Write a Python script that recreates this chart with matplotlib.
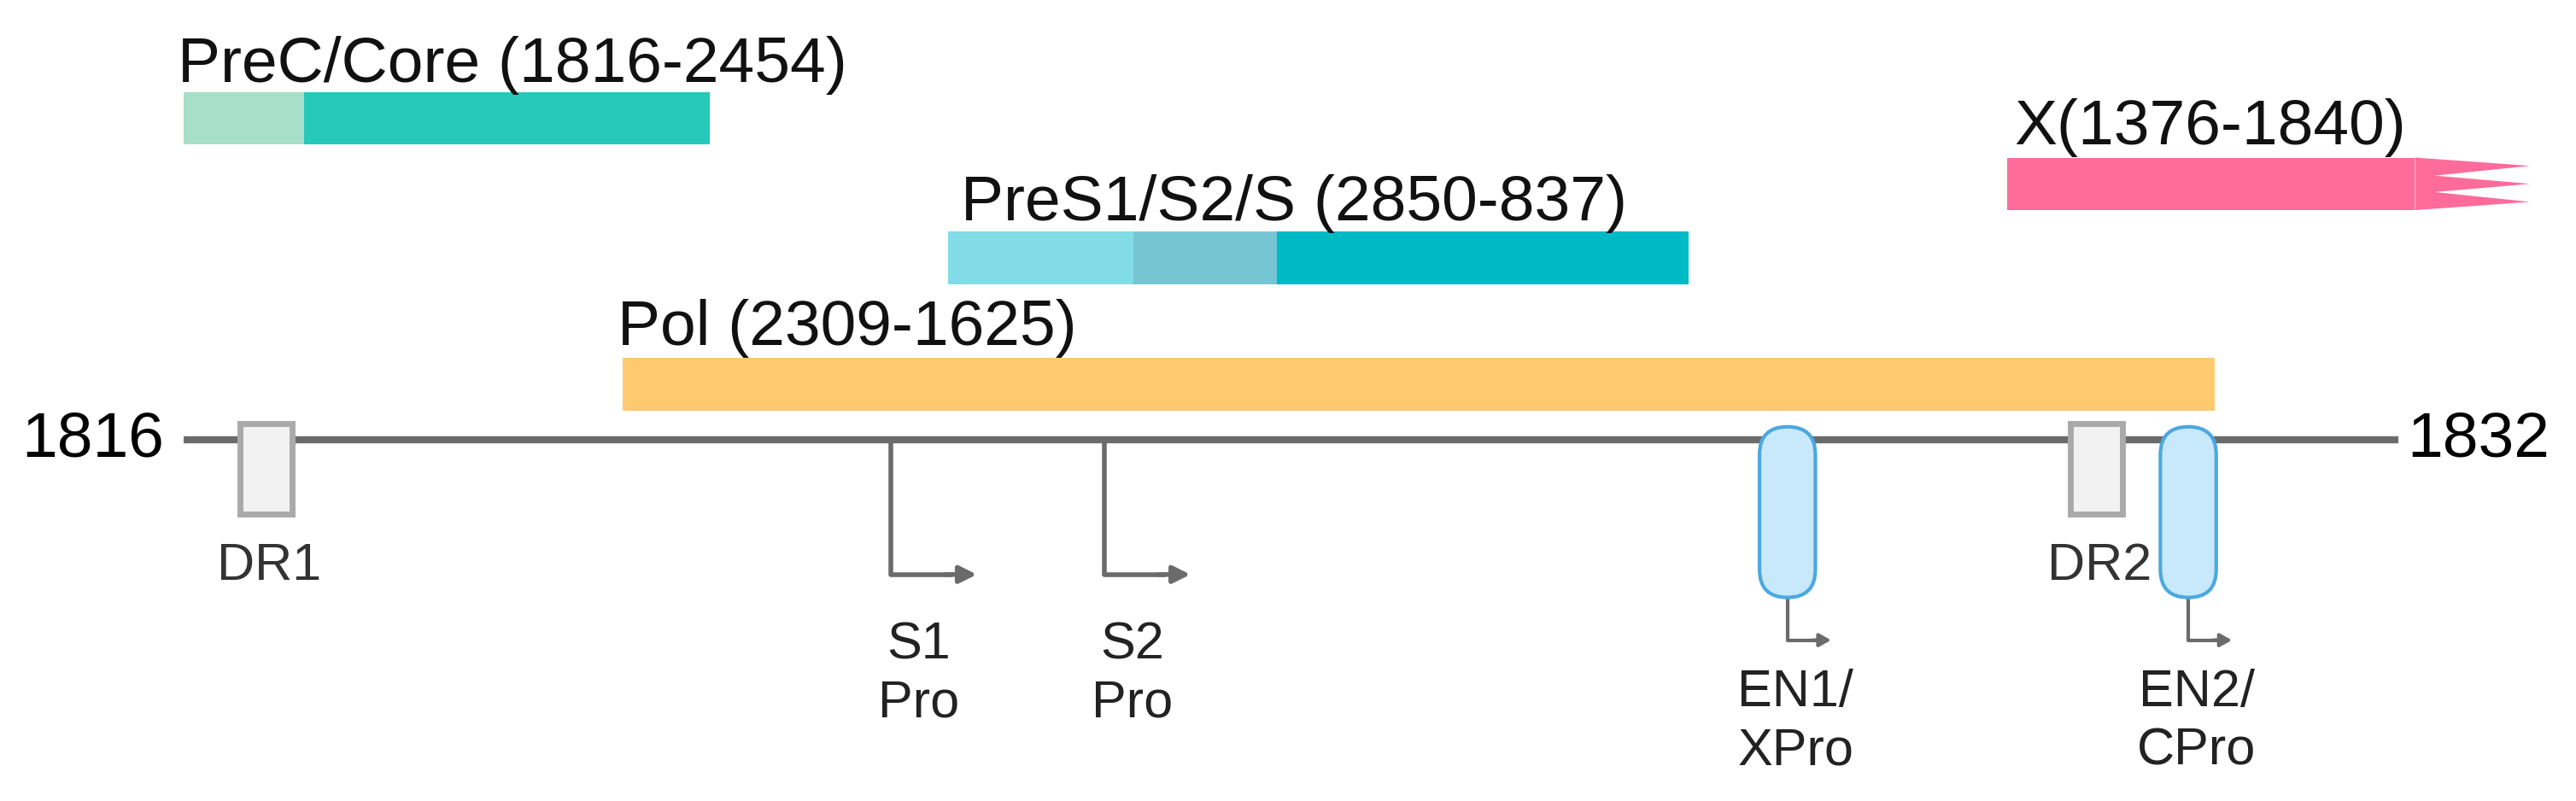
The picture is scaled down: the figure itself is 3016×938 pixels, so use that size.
import matplotlib
matplotlib.use("Agg")
import matplotlib.pyplot as plt
from matplotlib.patches import Rectangle, FancyBboxPatch, Polygon

plt.rcParams['font.family'] = ['Liberation Sans', 'DejaVu Sans']

# gene bars: (label, label_x, label_y, y_top, segments[(x0, x1, color)])
genes = [
    ("PreC/Core (1816-2454)", 108, 40, 56, [(112, 185, "#a8dfca"), (185, 432, "#26c8b9")]),
    ("PreS1/S2/S (2850-837)", 585, 124, 141, [(577, 690, "#82dce8"), (690, 777, "#76c5d2"), (777, 1028, "#00b9c6")]),
    ("Pol (2309-1625)", 376, 200, 218, [(379, 1348, "#ffc970")]),
    ("X(1376-1840)", 1226, 78, 96, [(1222, 1470, "#ff6b9b")]),
]
bar_h = 32

genome_start, genome_end = "1816", "1832"
line_x = (112, 1460)
line_y = 268

# repeats (DR) boxes
dr_names = ["DR1", "DR2"]
dr_x = [146, 1260]
# enhancers
en_x = [1070, 1314]
en_labels = ["EN1/\nXPro", "EN2/\nCPro"]
# promoters
pro_x = [542, 672]
pro_labels = ["S1\nPro", "S2\nPro"]

fig = plt.figure(figsize=(30.16, 9.38), dpi=100)
ax = fig.add_axes([0, 0, 1, 1])
ax.set_xlim(0, 1568)
ax.set_ylim(488, 0)
ax.axis('off')

for label, lx, ly, yt, segs in genes:
    for x0, x1, c in segs:
        ax.add_patch(Rectangle((x0, yt), x1 - x0, bar_h, color=c, lw=0))
    ax.text(lx, ly, label, fontsize=54, va='center', ha='left', color='#111')

# spiky end of X
xe = genes[3][4][-1][1]
yt = genes[3][3]
pts = [(xe, yt), (xe + 70, yt + 5), (xe + 12, yt + 11), (xe + 70, yt + 16),
       (xe + 12, yt + 21), (xe + 70, yt + 27), (xe, yt + bar_h)]
ax.add_patch(Polygon(pts, closed=True, color="#ff6b9b", lw=0))

# genome line
ax.plot(line_x, [line_y, line_y], color="#6b6b6b", lw=6, solid_capstyle='butt', zorder=2)
ax.text(100, line_y, genome_start, fontsize=54, ha='right', va='center')
ax.text(1465, line_y, genome_end, fontsize=54, ha='left', va='center')

for name, x in zip(dr_names, dr_x):
    ax.add_patch(Rectangle((x, 258), 32, 55, facecolor="#f2f2f2", edgecolor="#aaaaaa", lw=5, zorder=3))
    ax.text(x + 18, 345, name, fontsize=44, ha='center', va='center', color='#333')

for x, lab in zip(en_x, en_labels):
    ax.add_patch(FancyBboxPatch((x + 1, 260), 34, 104, boxstyle="round,pad=0,rounding_size=17",
                                mutation_aspect=1, facecolor="#c8e9fb", edgecolor="#4ba8e0", lw=3, zorder=3))
    ax.plot([x + 18, x + 18, x + 38], [365, 390, 390], color="#6b6b6b", lw=3)
    ax.annotate("", xy=(x + 46, 390), xytext=(x + 32, 390),
                arrowprops=dict(arrowstyle="-|>,head_length=0.8,head_width=0.45", color="#6b6b6b", lw=3))
    ax.text(x + 23, 440, lab, fontsize=44, ha='center', va='center', color='#222', linespacing=1.25)

for x, lab in zip(pro_x, pro_labels):
    ax.plot([x, x, x + 36], [line_y, 350, 350], color="#6b6b6b", lw=4)
    ax.annotate("", xy=(x + 54, 350), xytext=(x + 32, 350),
                arrowprops=dict(arrowstyle="-|>,head_length=1.2,head_width=0.6", color="#6b6b6b", lw=4))
    ax.text(x + 17, 411, lab, fontsize=44, ha='center', va='center', color='#222', linespacing=1.25)

fig.savefig("out.png", dpi=100)
